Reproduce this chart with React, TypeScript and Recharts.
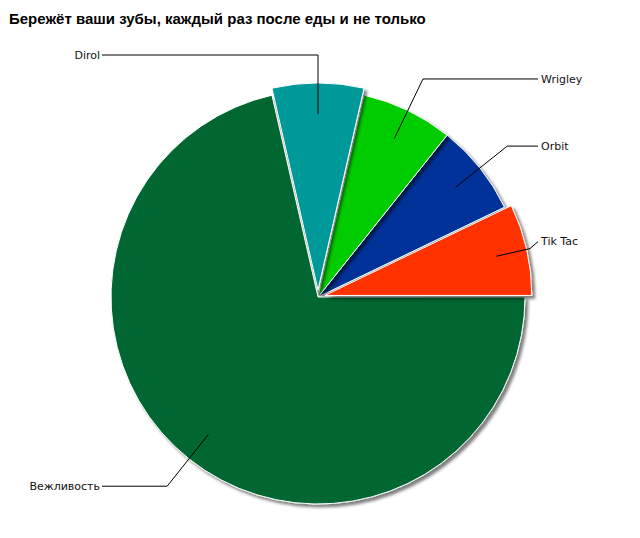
import React from 'react';
import { PieChart, Pie, Cell } from 'recharts';

// data
const brands = ['Tik Tac', 'Orbit', 'Wrigley', 'Dirol', 'Вежливость'];
const shares = [1, 1, 1, 1, 10];
const exploded = ['Tik Tac', 'Dirol'];

const colors = ['#ff3300', '#003399', '#00cc00', '#009999', '#006633'];

const data = brands.map((name, i) => ({ name, value: shares[i] }));
const total = shares.reduce((a, b) => a + b, 0);

const CX = 318;
const CY = 297;
const R = 207;
const EXPLODE = 7;

// mid angle of slice i (degrees, counter-clockwise from 3 o'clock)
const midAngle = (i: number) => {
  const before = shares.slice(0, i).reduce((a, b) => a + b, 0);
  return (360 * (before + shares[i] / 2)) / total;
};

const offsetOf = (name: string) => {
  const i = brands.indexOf(name);
  const rad = (midAngle(i) * Math.PI) / 180;
  return { dx: EXPLODE * Math.cos(rad), dy: -EXPLODE * Math.sin(rad) };
};

const renderLabel = (props: any) => {
  const { index } = props;
  const name = brands[index];
  const rad = (midAngle(index) * Math.PI) / 180;
  const cos = Math.cos(rad);
  const sin = Math.sin(rad);
  const off = exploded.includes(name) ? EXPLODE : 0;
  const sx = CX + (off + R * 0.85) * cos;
  const sy = CY - (off + R * 0.85) * sin;
  const right = cos > 1e-6;
  const endX = right ? 538 : 102;
  let ex = CX + (R + 35) * cos;
  let ey = CY - (R + 35) * sin;
  if (right && ex > endX - 8) {
    ex = endX - 8;
    ey = CY - (ex - CX) * Math.tan(rad);
  }
  const ly = right && ex === endX - 8 ? ey - 7 : ey;
  return (
    <g key={`lbl-${index}`}>
      <polyline
        points={`${sx},${sy} ${ex},${ey} ${endX},${ly}`}
        fill="none"
        stroke="#000"
        strokeWidth={1}
      />
      <text
        x={right ? endX + 3 : endX - 2}
        y={ly}
        dy="0.35em"
        textAnchor={right ? 'start' : 'end'}
        fontFamily="DejaVu Sans"
        fontSize={11}
        fill="#111"
      >
        {name}
      </text>
    </g>
  );
};

const App = () => {
  const explodedPies = exploded.map((name, k) => {
    const { dx, dy } = offsetOf(name);
    const last = k === exploded.length - 1;
    return (
      <Pie
        key={name}
        data={data}
        dataKey="value"
        nameKey="name"
        cx={CX + dx}
        cy={CY + dy}
        outerRadius={R}
        startAngle={0}
        endAngle={360}
        isAnimationActive={false}
        label={last ? renderLabel : false}
        labelLine={false}
        legendType="none"
      >
        {data.map((d, i) =>
          d.name === name ? (
            <Cell key={i} fill={colors[i]} stroke="#fff" strokeWidth={1} filter="url(#pieShadow)" />
          ) : (
            <Cell key={i} fill="none" stroke="none" />
          )
        )}
      </Pie>
    );
  });

  return (
    <div style={{ position: 'absolute', left: 0, top: 0, width: 640, height: 538, background: '#fff' }}>
      <svg width={0} height={0} style={{ position: 'absolute' }}>
        <defs>
          <filter id="pieShadow" x="-10%" y="-10%" width="130%" height="130%">
            <feDropShadow dx={3} dy={3} stdDeviation={1.8} floodColor="#000" floodOpacity={0.5} />
          </filter>
        </defs>
      </svg>
      <div
        style={{
          position: 'absolute',
          left: 9,
          top: 10,
          fontFamily: '"Liberation Sans", Arial, sans-serif',
          fontWeight: 'bold',
          fontSize: 15,
          color: '#000',
          whiteSpace: 'nowrap',
        }}
      >
        Бережёт ваши зубы, каждый раз после еды и не только
      </div>
      <PieChart width={640} height={538} margin={{ top: 0, right: 0, bottom: 0, left: 0 }}>
        <Pie
          data={data}
          dataKey="value"
          nameKey="name"
          cx={CX}
          cy={CY}
          outerRadius={R}
          startAngle={0}
          endAngle={360}
          isAnimationActive={false}
          label={false}
          labelLine={false}
          legendType="none"
        >
          {data.map((d, i) =>
            exploded.includes(d.name) ? (
              <Cell key={i} fill="none" stroke="none" />
            ) : (
              <Cell key={i} fill={colors[i]} stroke="#fff" strokeWidth={1} filter="url(#pieShadow)" />
            )
          )}
        </Pie>
        {explodedPies}
      </PieChart>
    </div>
  );
};

export default App;
